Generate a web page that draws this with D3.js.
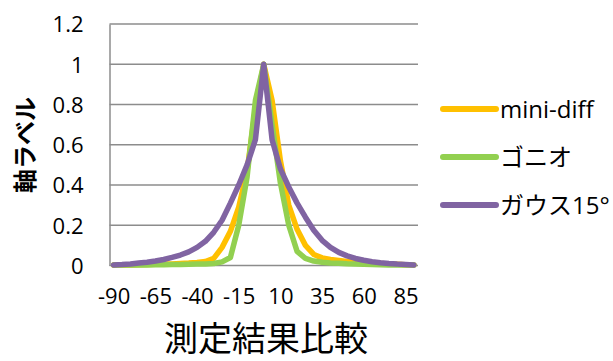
<!DOCTYPE html>
<html>
<head>
<meta charset="utf-8">
<script src="https://cdn.jsdelivr.net/npm/d3@7/dist/d3.min.js"></script>
<style>
  html, body { margin: 0; padding: 0; background: #ffffff; }
  svg { display: block; }
  text { font-family: "Open Sans", "Noto Sans CJK JP", sans-serif; fill: #000; }
</style>
</head>
<body>
<svg id="chart" width="613" height="361"></svg>
<script>
// ---- data ----
const categories = [-90,-85,-80,-75,-70,-65,-60,-55,-50,-45,-40,-35,-30,-25,-20,-15,-10,-5,0,5,10,15,20,25,30,35,40,45,50,55,60,65,70,75,80,85,90];
const miniDiff = [0.002,0.003,0.003,0.004,0.005,0.006,0.007,0.008,0.010,0.012,0.015,0.020,0.035,0.090,0.170,0.290,0.470,0.780,1.0,0.820,0.520,0.300,0.180,0.100,0.055,0.038,0.030,0.025,0.020,0.017,0.014,0.012,0.010,0.008,0.006,0.004,0.003];
const gonio = [0.002,0.002,0.002,0.003,0.003,0.004,0.004,0.005,0.005,0.006,0.007,0.008,0.010,0.018,0.040,0.200,0.440,0.820,1.0,0.700,0.410,0.200,0.070,0.035,0.022,0.016,0.013,0.011,0.009,0.008,0.006,0.005,0.004,0.003,0.003,0.002,0.002];
const gauss15 = [0.003,0.005,0.008,0.012,0.016,0.022,0.030,0.040,0.052,0.068,0.090,0.120,0.165,0.225,0.310,0.400,0.500,0.625,1.0,0.625,0.480,0.390,0.310,0.240,0.175,0.125,0.090,0.065,0.048,0.035,0.026,0.019,0.014,0.010,0.007,0.005,0.003];
const seriesNames = ["mini-diff", "ゴニオ", "ガウス15°"];
const seriesColors = ["#FFC000", "#92D050", "#8064A2"];
const yTicks = [0, 0.2, 0.4, 0.6, 0.8, 1, 1.2];
const xTickLabels = [-90,-65,-40,-15,10,35,60,85];
const xTitle = "測定結果比較";
const yTitle = "軸ラベル";

const series = [miniDiff, gonio, gauss15].map((vals, k) => ({
  name: seriesNames[k], color: seriesColors[k], values: vals
}));

// ---- layout ----
const svg = d3.select("#chart");
const plot = { left: 109.5, right: 418, top: 24, bottom: 265.5 };

const x = d3.scalePoint().domain(categories).range([plot.left, plot.right]).padding(0.5);
const y = d3.scaleLinear().domain([0, 1.2]).range([plot.bottom, plot.top]);

// gridlines
svg.append("g").selectAll("line").data(yTicks).join("line")
  .attr("x1", plot.left).attr("x2", plot.right)
  .attr("y1", d => y(d)).attr("y2", d => y(d))
  .attr("stroke", "#8c8c8c").attr("stroke-width", 1.5);

// y axis (left line + labels)
const yAxis = d3.axisLeft(y).tickValues(yTicks).tickSize(0).tickPadding(26)
  .tickFormat(d => d3.format("")(+d.toFixed(1)));
const gy = svg.append("g").attr("transform", `translate(${plot.left},0)`).call(yAxis);
gy.select(".domain").attr("stroke", "#8c8c8c").attr("stroke-width", 1.5);
gy.selectAll("text").style("font-size", "22px").attr("fill", "#000")
  .attr("dy", "0.36em").attr("font-family", "\"Open Sans\", sans-serif");

// x axis labels
const xAxis = d3.axisBottom(x).tickValues(xTickLabels).tickSize(0).tickPadding(23);
const gx = svg.append("g").attr("transform", `translate(0,${plot.bottom})`).call(xAxis);
gx.select(".domain").remove();
gx.selectAll("text").style("font-size", "22px").attr("fill", "#000")
  .attr("font-family", "\"Open Sans\", sans-serif");

// lines
const line = d3.line().x((d, i) => x(categories[i])).y(d => y(d));
svg.append("g").selectAll("path").data(series).join("path")
  .attr("d", d => line(d.values))
  .attr("fill", "none")
  .attr("stroke", d => d.color)
  .attr("stroke-width", 5.5)
  .attr("stroke-linejoin", "round")
  .attr("stroke-linecap", "round");

// legend
const legend = svg.append("g");
const lg = legend.selectAll("g").data(series).join("g")
  .attr("transform", (d, i) => `translate(443,${109 + i * 48})`);
lg.append("line").attr("x1", 0).attr("x2", 53).attr("y1", 0).attr("y2", 0)
  .attr("stroke", d => d.color).attr("stroke-width", 6).attr("stroke-linecap", "round");
lg.append("text").attr("x", 57).attr("y", 0).attr("dy", "0.36em")
  .style("font-size", "24px").text(d => d.name);

// axis titles
svg.append("text")
  .attr("transform", "translate(34,145) rotate(-90)")
  .attr("text-anchor", "middle")
  .style("font-size", "24px").style("font-weight", "bold")
  .text(yTitle);

svg.append("text")
  .attr("x", 266).attr("y", 351)
  .attr("text-anchor", "middle")
  .style("font-size", "34px")
  .text(xTitle);
</script>
</body>
</html>
